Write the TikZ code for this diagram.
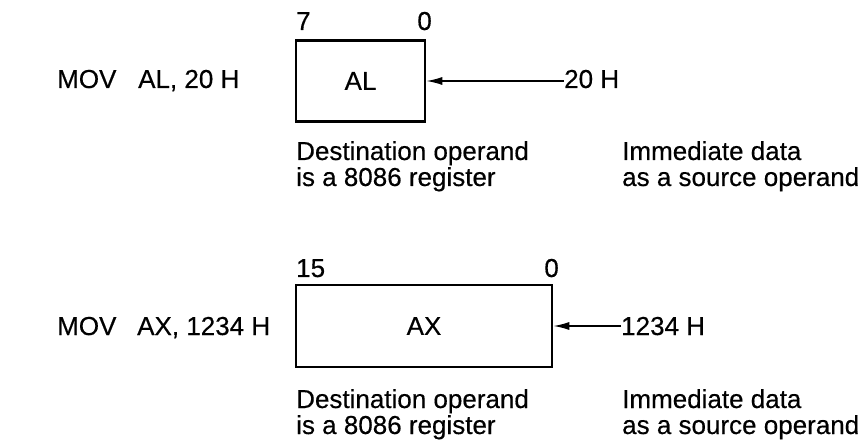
\documentclass[tikz,border=0pt]{standalone}
\usepackage{fontspec}
\setmainfont{Liberation Sans}
\newfontfamily\scanfont[FakeBold=0.4]{Liberation Sans}
\usetikzlibrary{arrows.meta}
\begin{document}
\begin{tikzpicture}[x=1pt,y=-1pt,
  txt/.style={anchor=base west,inner sep=0pt,font=\scanfont\fontsize{26}{26}\selectfont},
  reg/.style={draw,line width=2.6pt,inner sep=0pt,font=\scanfont\fontsize{26}{26}\selectfont},
  feed/.style={line width=1.5pt,-{Latex[length=16pt,width=8pt]}}]
\useasboundingbox (0,0) rectangle (864,443);
% top
\node[txt] (mov1) at (57,88) {MOV};
\node[txt] (op1) at (138,88) {AL, 20 H};
\node[reg,minimum width=129pt,minimum height=81pt] (al) at (360.5,81) {AL};
\node[txt] (b7) at (296,30) {7};
\node[txt,anchor=base east] (b0a) at (432,30) {0};
\node[txt] (src1) at (564,88) {20 H};
\draw[feed] (src1.west|-al.east) -- (al.east);
\node[txt] (d1a) at (296,160) {Destination operand};
\node[txt] (d1b) at (296,186) {is a 8086 register};
\node[txt] (i1a) at (622,160) {Immediate data};
\node[txt] (i1b) at (622,186) {as a source operand};
% bottom
\node[txt] (mov2) at (57,335) {MOV};
\node[txt] (op2) at (137,335) {AX, 1234 H};
\node[reg,minimum width=256pt,minimum height=82pt] (ax) at (424,326) {AX};
\node[txt] (b15) at (296,277) {15};
\node[txt,anchor=base east] (b0b) at (559,277) {0};
\node[txt] (src2) at (621,335) {1234 H};
\draw[feed] (src2.west|-ax.east) -- (ax.east);
\node[txt] (d2a) at (296,408) {Destination operand};
\node[txt] (d2b) at (296,434) {is a 8086 register};
\node[txt] (i2a) at (622,408) {Immediate data};
\node[txt] (i2b) at (622,434) {as a source operand};
\end{tikzpicture}
\end{document}
